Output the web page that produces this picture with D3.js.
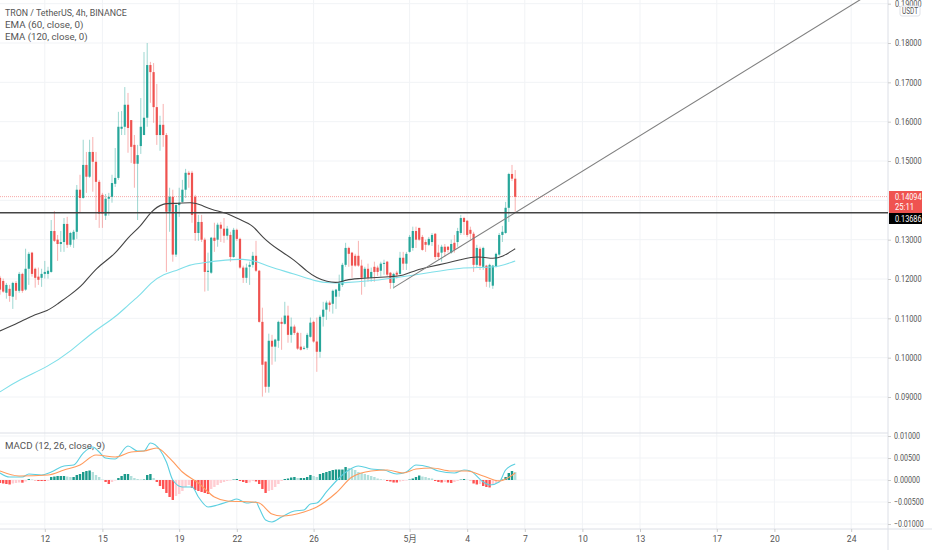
<!DOCTYPE html>
<html lang="zh">
<head>
  <meta charset="UTF-8">
  <title>TRON / TetherUS 4h</title>
  <script src="https://d3js.org/d3.v7.min.js"></script>
  <style>
    html, body { margin: 0; padding: 0; background: #fff; }
    svg { display: block; }
    text { font-family: Roboto, "Noto Sans CJK SC", sans-serif; }
    .legend { font-size: 8.6px; fill: #555; }
    .axis text { font-size: 8.6px; fill: #555; }
    .axis line { stroke: #ccc; }
  </style>
</head>
<body>
  <svg id="chart" width="932" height="550"></svg>

  <script>
    // prices in 1/10000 USDT, one row of each array per 4h bar
    var opens = [1203,1195,1165,1175,1155,1190,1170,1213,1173,1226,1267,1226,1206,1203,1213,1213,1218,1322,1300,1289,1294,1340,1287,1300,1320,1427,1406,1490,1460,1523,1498,1447,1414,1361,1404,1409,1442,1457,1582,1587,1643,1604,1541,1493,1538,1566,1610,1744,1726,1637,1566,1592,1566,1371,1409,1262,1388,1396,1427,1470,1470,1409,1317,1345,1300,1218,1216,1305,1300,1338,1328,1310,1312,1256,1325,1302,1229,1203,1231,1236,1259,1221,1091,990,926,1043,1028,1043,1091,1086,1107,1058,1079,1063,1028,1023,1025,1053,1091,1041,1015,1104,1122,1140,1137,1155,1170,1185,1236,1279,1267,1259,1259,1234,1203,1226,1203,1231,1229,1221,1239,1244,1216,1190,1216,1213,1254,1239,1269,1279,1322,1330,1307,1294,1287,1294,1315,1267,1267,1282,1282,1267,1292,1294,1317,1355,1348,1325,1315,1236,1277,1231,1234,1193,1183,1231,1262,1312,1317,1381,1467,1455];
    var highs = [1208,1201,1190,1185,1193,1195,1218,1216,1277,1269,1269,1229,1229,1226,1246,1231,1350,1373,1312,1322,1355,1358,1320,1325,1439,1465,1554,1523,1554,1561,1523,1452,1419,1416,1419,1465,1533,1625,1627,1688,1673,1604,1566,1541,1660,1777,1800,1752,1749,1696,1615,1645,1571,1432,1427,1391,1432,1452,1480,1475,1475,1414,1363,1363,1305,1267,1307,1343,1343,1345,1355,1335,1320,1330,1328,1305,1234,1239,1244,1269,1297,1223,1127,990,1061,1058,1048,1094,1102,1142,1132,1102,1084,1066,1063,1030,1063,1102,1094,1102,1109,1142,1145,1145,1173,1175,1211,1241,1292,1282,1269,1264,1297,1249,1231,1239,1229,1244,1234,1244,1249,1246,1218,1216,1221,1269,1269,1269,1312,1333,1333,1330,1312,1300,1307,1317,1317,1287,1287,1289,1284,1300,1312,1330,1363,1358,1350,1333,1320,1287,1282,1282,1236,1239,1236,1267,1317,1335,1396,1470,1490,1477];
    var lows = [1160,1165,1150,1142,1124,1147,1165,1165,1170,1185,1206,1178,1185,1180,1201,1201,1216,1294,1246,1269,1269,1279,1282,1279,1302,1368,1404,1419,1457,1422,1350,1330,1330,1350,1361,1394,1434,1452,1566,1566,1521,1495,1432,1350,1518,1566,1587,1648,1597,1541,1526,1536,1218,1320,1244,1256,1358,1394,1406,1432,1343,1297,1297,1294,1168,1170,1213,1269,1282,1294,1292,1300,1244,1254,1297,1226,1190,1190,1185,1229,1218,1089,901,911,911,982,990,1025,1020,1084,1038,1038,1058,1020,1018,1020,1020,1051,1038,964,1000,1079,1096,1117,1112,1124,1155,1180,1231,1231,1203,1231,1231,1160,1180,1193,1193,1193,1208,1206,1211,1206,1175,1175,1201,1211,1223,1223,1267,1272,1279,1297,1272,1269,1284,1284,1249,1249,1244,1256,1267,1264,1267,1282,1312,1312,1307,1300,1218,1229,1223,1223,1180,1178,1175,1229,1259,1294,1315,1345,1449,1371];
    var closes = [1173,1168,1185,1157,1190,1170,1213,1170,1226,1264,1213,1203,1198,1213,1218,1221,1322,1297,1289,1294,1340,1287,1317,1320,1427,1406,1490,1460,1523,1498,1447,1366,1366,1404,1409,1444,1457,1587,1587,1643,1584,1536,1493,1515,1587,1610,1744,1726,1637,1566,1592,1566,1371,1409,1262,1388,1394,1427,1470,1465,1363,1317,1345,1300,1218,1221,1305,1297,1338,1328,1310,1328,1256,1325,1302,1229,1203,1229,1236,1259,1221,1091,982,926,1043,1028,1046,1091,1086,1107,1058,1079,1063,1023,1020,1025,1058,1089,1041,1015,1104,1122,1140,1134,1170,1173,1190,1236,1279,1264,1234,1234,1234,1203,1226,1203,1218,1218,1218,1239,1241,1211,1190,1213,1211,1254,1239,1264,1307,1322,1300,1300,1274,1287,1302,1312,1256,1256,1282,1269,1274,1289,1274,1322,1355,1345,1312,1315,1236,1279,1234,1279,1193,1236,1234,1264,1312,1320,1381,1467,1455,1409];

    // EMA lines read at these bar indexes, prices in 1/10000
    var ema60Bars = [0,6,10,15,18,22,26,30,36,40,44,47,51,55,60,63,66,71,75,79,82,87,92,96,99,102,106,108,112,116,122,126,130,134,140,144,147,151,154,157,161];
    var ema60Vals = [1068,1089,1107,1119,1137,1160,1185,1229,1262,1307,1333,1371,1394,1391,1396,1388,1376,1368,1350,1338,1305,1274,1249,1218,1203,1193,1190,1198,1201,1203,1206,1208,1223,1231,1241,1249,1256,1256,1251,1256,1277];
    var ema120Bars = [0,6,15,22,29,36,40,44,47,51,56,59,63,71,76,80,84,92,99,103,107,116,126,134,144,151,156,161];
    var ema120Vals = [913,944,977,1015,1066,1102,1134,1160,1190,1213,1223,1236,1241,1249,1251,1246,1231,1213,1193,1190,1190,1195,1206,1216,1229,1229,1231,1246];

    // MACD in 1/100000
    var macdBars = [0,3,7,9,13,16,20,23,26,29,31,33,36,40,43,45,47,50,52,54,57,60,62,65,68,72,74,77,80,81,83,85,88,92,95,97,99,102,106,109,112,116,120,124,127,130,134,137,142,145,147,151,153,156,158,161];
    var macdVals = [159,68,68,136,114,182,318,340,613,749,636,499,477,772,658,658,840,681,409,0,-159,-159,-386,-613,-568,-477,-431,-522,-499,-636,-908,-953,-840,-704,-681,-545,-522,-272,45,227,318,250,227,136,182,340,295,204,159,227,204,-45,-114,-45,227,363];
    var signalBars = [0,6,15,20,25,30,36,41,45,49,53,57,62,67,71,79,81,85,88,95,99,105,110,116,121,126,130,135,141,146,151,156,161];
    var signalVals = [204,91,114,227,340,568,522,636,658,726,499,182,-68,-386,-477,-499,-522,-772,-817,-726,-613,-295,68,204,227,159,250,272,204,204,91,-23,159];
    var histVals = [-68,-79,-91,-102,-79,-68,-57,-61,-34,23,11,-7,-23,-23,-23,-16,68,79,91,91,91,79,68,68,114,136,182,204,216,182,114,68,11,-45,-91,-45,-11,45,91,136,136,91,45,23,11,11,114,136,45,-45,-136,-204,-295,-386,-454,-363,-318,-250,-159,-114,-182,-227,-250,-272,-295,-318,-204,-159,-114,-68,-45,-23,-11,11,23,-23,-45,-68,-57,-23,-34,-91,-204,-295,-250,-227,-159,-91,-23,23,34,57,68,45,45,45,68,114,91,68,136,159,182,204,227,238,238,238,295,272,250,227,182,159,136,114,91,68,34,18,7,-23,-34,-57,-57,-34,-23,-11,11,34,68,102,79,68,45,34,-23,-45,-57,-45,-57,-68,-45,-23,9,23,7,-7,-79,-102,-91,-136,-159,-170,-114,-68,-34,11,68,159,204,182];

    var priceTicks = [0.09,0.10,0.11,0.12,0.13,0.14,0.15,0.16,0.17,0.18,0.19];
    var macdTicks = [-0.01,-0.005,0,0.005,0.01];
    var timeBars = [14,32,56,74,98,128,146,164,182,200,224,242,266];
    var timeLabels = ['12','15','19','22','26','5月','4','7','10','13','17','20','24'];

    var lastPrice = 0.14094;
    var linePrice = 0.13686;
    var trendBars = [123,269];
    var trendVals = [1178,1911];

    var legendLines = ['TRON / TetherUS, 4h, BINANCE','EMA (60, close, 0)','EMA (120, close, 0)'];

    var UP = '#26a69a', DOWN = '#ef5350';
    var axisX = 888, paneTop = 433, paneBottom = 529;

    var svg = d3.select('#chart');

    var x = d3.scaleLinear().domain([0,161]).range([0,515.2]);
    var y = d3.scaleLinear().domain([0.18,0.09]).range([43,397]);
    var yMacd = d3.scaleLinear().domain([0.01,-0.01]).range([436,524]);

    // the reference font is narrow and evenly spaced, fit to its width per char
    function squeeze(sel, perChar) {
      sel.each(function() {
        d3.select(this).attr('textLength', this.textContent.length * perChar).attr('lengthAdjust','spacingAndGlyphs');
      });
    }

    svg.append('clipPath').attr('id','mainClip').append('rect').attr('width',axisX).attr('height',paneTop);
    svg.append('clipPath').attr('id','macdClip').append('rect').attr('y',paneTop).attr('width',axisX).attr('height',paneBottom-paneTop);

    // grid
    var grid = svg.append('g').attr('stroke','#f1f3f6');
    grid.selectAll('.gx').data(timeBars).join('line')
      .attr('x1',d=>x(d)).attr('x2',d=>x(d)).attr('y1',0).attr('y2',paneBottom);
    grid.selectAll('.gy').data(priceTicks).join('line')
      .attr('x1',0).attr('x2',axisX).attr('y1',d=>y(d)).attr('y2',d=>y(d));
    grid.selectAll('.gm').data(macdTicks).join('line')
      .attr('x1',0).attr('x2',axisX).attr('y1',d=>yMacd(d)).attr('y2',d=>yMacd(d));

    // pane frames
    var frame = svg.append('g').attr('stroke','#dcdfe6');
    frame.append('line').attr('x1',0).attr('x2',axisX).attr('y1',paneTop).attr('y2',paneTop);
    frame.append('line').attr('x1',0).attr('x2',932).attr('y1',paneBottom).attr('y2',paneBottom);
    frame.append('line').attr('x1',axisX).attr('x2',axisX).attr('y1',0).attr('y2',550);

    // last price
    svg.append('line').attr('x1',0).attr('x2',axisX)
      .attr('y1',y(lastPrice)).attr('y2',y(lastPrice))
      .attr('stroke','#ef5350').attr('stroke-opacity',0.5).attr('stroke-dasharray','1 1');

    // candles
    var main = svg.append('g').attr('clip-path','url(#mainClip)');
    var bars = d3.range(opens.length);
    var barColor = i => closes[i] >= opens[i] ? UP : DOWN;

    main.selectAll('.wick').data(bars).join('line')
      .attr('x1',i=>x(i)).attr('x2',i=>x(i))
      .attr('y1',i=>y(highs[i]/1e4)).attr('y2',i=>y(lows[i]/1e4))
      .attr('stroke',barColor).attr('stroke-opacity',0.45);
    main.selectAll('.body').data(bars).join('rect')
      .attr('x',i=>x(i)-1.1).attr('width',2.2)
      .attr('y',i=>y(Math.max(opens[i],closes[i])/1e4))
      .attr('height',i=>Math.max(1,y(Math.min(opens[i],closes[i])/1e4)-y(Math.max(opens[i],closes[i])/1e4)))
      .attr('fill',barColor);

    // EMA lines
    var emaLine = d3.line().x(d=>x(d[0])).y(d=>y(d[1]/1e4)).curve(d3.curveBasis);
    main.append('path').attr('d',emaLine(d3.zip(ema120Bars,ema120Vals)))
      .attr('fill','none').attr('stroke','#7fdfe9').attr('stroke-width',1.1);
    main.append('path').attr('d',emaLine(d3.zip(ema60Bars,ema60Vals)))
      .attr('fill','none').attr('stroke','#444').attr('stroke-width',1.1);

    // drawn lines
    main.append('path').attr('d',d3.line().x(d=>x(d[0])).y(d=>y(d[1]/1e4))(d3.zip(trendBars,trendVals)))
      .attr('fill','none').attr('stroke','#808080').attr('stroke-width',1.1);
    main.append('line').attr('x1',0).attr('x2',axisX)
      .attr('y1',y(linePrice)).attr('y2',y(linePrice))
      .attr('stroke','#444').attr('stroke-width',1.5);

    // MACD pane
    var macdPane = svg.append('g').attr('clip-path','url(#macdClip)');
    macdPane.selectAll('.hist').data(histVals).join('rect')
      .attr('x',(d,i)=>x(i)-1.2).attr('width',2.4)
      .attr('y',d=>yMacd(Math.max(d,0)/1e5))
      .attr('height',d=>Math.abs(yMacd(d/1e5)-yMacd(0)))
      .attr('fill',(d,i)=>{
        var prev = i ? histVals[i-1] : d;
        if (d >= 0) return d >= prev ? '#1b9a8b' : '#b2dfdb';
        return d <= prev ? '#ff5252' : '#ffcdd2';
      });
    var macdLine = d3.line().x(d=>x(d[0])).y(d=>yMacd(d[1]/1e5)).curve(d3.curveMonotoneX);
    macdPane.append('path').attr('d',macdLine(d3.zip(macdBars,macdVals)))
      .attr('fill','none').attr('stroke','#5bcfe0').attr('stroke-width',1.1);
    macdPane.append('path').attr('d',macdLine(d3.zip(signalBars,signalVals)))
      .attr('fill','none').attr('stroke','#ff9a5c').attr('stroke-width',1.1);

    // axes, the 0.14 tick sits behind the last price label so it gets no label
    var axisPrices = priceTicks.filter(d=>d !== 0.14);
    svg.append('g').attr('class','axis').attr('transform','translate('+axisX+',0)')
      .call(d3.axisRight(y).tickValues(axisPrices).tickSize(3).tickPadding(4).tickFormat(d3.format('.5f')))
      .call(g=>g.select('.domain').remove())
      .call(g=>squeeze(g.selectAll('text'),3.8));
    svg.append('g').attr('class','axis').attr('transform','translate('+axisX+',0)')
      .call(d3.axisRight(yMacd).tickValues(macdTicks).tickSize(3).tickPadding(3).tickFormat(d3.format('.5f')))
      .call(g=>g.select('.domain').remove())
      .call(g=>squeeze(g.selectAll('text'),3.7));
    var timeScale = d3.scaleOrdinal().domain(timeBars).range(timeBars.map(d=>x(d)));
    svg.append('g').attr('class','axis').attr('transform','translate(0,'+paneBottom+')')
      .call(d3.axisBottom(timeScale).tickSize(3).tickPadding(4).tickFormat((d,i)=>timeLabels[i]))
      .call(g=>g.select('.domain').remove());

    // currency box
    svg.append('rect').attr('x',900).attr('y',6).attr('width',20).attr('height',10).attr('rx',2)
      .attr('fill','#fff').attr('stroke','#dfe2e8');
    svg.append('text').attr('x',902).attr('y',14).attr('font-size',8.2).attr('fill','#555').text('USDT').call(squeeze,4);

    // price labels
    svg.append('rect').attr('x',889).attr('y',191).attr('width',33).attr('height',22).attr('fill','#ef5350');
    svg.append('text').attr('x',895).attr('y',199.5).attr('font-size',8.2).attr('fill','#fff').text(d3.format('.5f')(lastPrice)).call(squeeze,3.8);
    svg.append('text').attr('x',895).attr('y',210).attr('font-size',8.2).attr('fill','#fff').text('25:11').call(squeeze,3.8);
    svg.append('rect').attr('x',889).attr('y',213).attr('width',33).attr('height',11).attr('fill','#000');
    svg.append('text').attr('x',895).attr('y',221.5).attr('font-size',8.6).attr('fill','#fff').text(d3.format('.5f')(linePrice)).call(squeeze,3.8);

    // legends
    svg.selectAll('.legend').data(legendLines).join('text').attr('class','legend')
      .attr('x',5).attr('y',(d,i)=>16+i*12).text(d=>d).call(squeeze,4.35);
    svg.append('text').attr('class','legend').attr('x',5).attr('y',449).text('MACD (12, 26, close, 9)').call(squeeze,4.35);
  </script>
</body>
</html>
